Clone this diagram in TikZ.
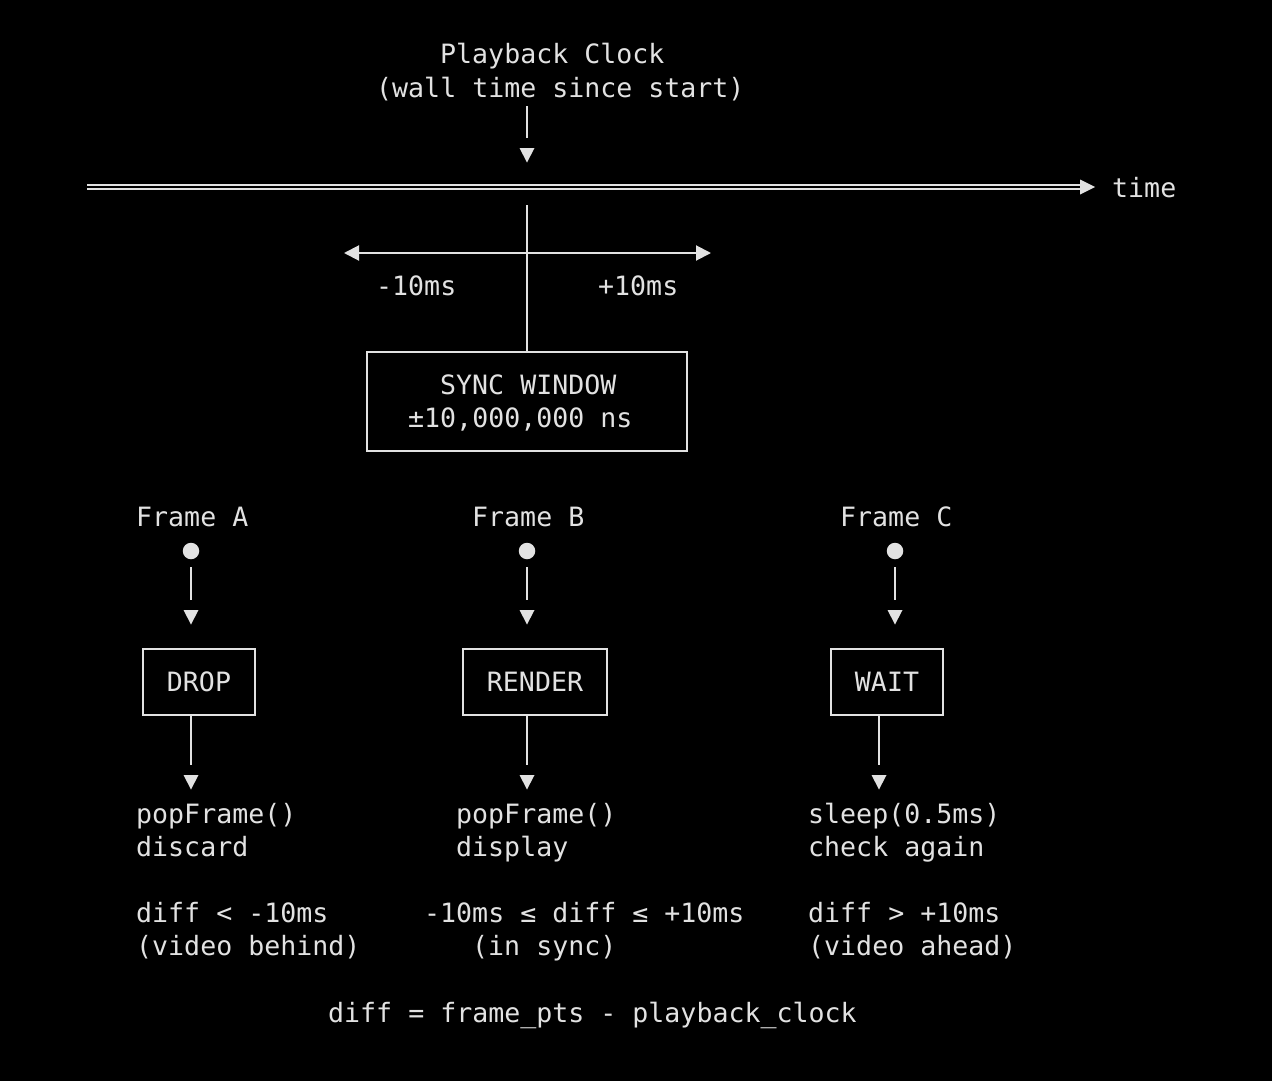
\documentclass[tikz,border=0pt]{standalone}
\usepackage{fontspec}
\setmonofont{DejaVu Sans Mono}
\usetikzlibrary{arrows.meta}
\definecolor{fg}{HTML}{E2E2E2}
\tikzset{
  txt/.style={text=fg, font=\fontsize{26.6}{33}\selectfont\ttfamily, inner sep=0pt, anchor=base west},
  ln/.style={draw=fg, line width=2pt},
  boxnode/.style={draw=fg, line width=2pt, text=fg, font=\fontsize{26.6}{33}\selectfont\ttfamily, inner sep=0pt},
  dotnode/.style={circle, fill=fg, inner sep=0pt, minimum size=16.5pt},
  dtri/.pic={\fill[fg] (-7.5,0) -- (7.5,0) -- (0,14.5) -- cycle;},
  tip/.style={-{Triangle[length=15pt,width=15pt]}},
  tips/.style={{Triangle[length=15pt,width=15pt]}-{Triangle[length=15pt,width=15pt]}}
}
\begin{document}
\begin{tikzpicture}[x=1pt,y=-1pt]
\fill[black] (0,0) rectangle (1272,1081);
\useasboundingbox (0,0) rectangle (1272,1081);

% clock
\node[txt] (clk1) at (440,64) {Playback Clock};
\node[txt] (clk2) at (376,97) {(wall time since start)};
\coordinate (c1) at (527,106);
\coordinate (c2) at (527,138);
\draw[ln] (c1) -- (c2);
\pic at (527,148) {dtri};

% timeline
\coordinate (t0a) at (87,185);
\coordinate (t1a) at (1081,185);
\coordinate (t0b) at (87,189);
\coordinate (t1b) at (1081,189);
\draw[ln, line width=1.8pt] (t0a) -- (t1a);
\draw[ln, line width=1.8pt] (t0b) -- (t1b);
\fill[fg] (1080,179.5) -- (1095,187) -- (1080,194.5) -- cycle;
\node[txt] (time) at (1112,197) {time};

% sync window
\node[boxnode, minimum width=320pt, minimum height=99pt] (sync) at (527,401.5) {};
\node[txt] (sync1) at (440,394) {SYNC WINDOW};
\node[txt] (sync2) at (408,427) {±10,000,000 ns};
\coordinate (v0) at (527,205);
\draw[ln] (v0) -- (sync.north);
\coordinate (hl) at (344,253);
\coordinate (hr) at (711,253);
\draw[ln, tips] (hl) -- (hr);
\node[txt] (m10) at (376,295) {-10ms};
\node[txt] (p10) at (598,295) {+10ms};

% frames
\node[txt] (fA) at (136,526) {Frame A};
\node[txt] (fB) at (472,526) {Frame B};
\node[txt] (fC) at (840,526) {Frame C};
\node[dotnode] (dA) at (191,551) {};
\node[dotnode] (dB) at (527,551) {};
\node[dotnode] (dC) at (895,551) {};
\coordinate (a1) at (191,567); \coordinate (a2) at (191,600);
\coordinate (b1) at (527,567); \coordinate (b2) at (527,600);
\coordinate (e1) at (895,567); \coordinate (e2) at (895,600);
\draw[ln] (a1) -- (a2);
\draw[ln] (b1) -- (b2);
\draw[ln] (e1) -- (e2);
\pic at (191,610) {dtri};
\pic at (527,610) {dtri};
\pic at (895,610) {dtri};

% action boxes
\node[boxnode, minimum width=112pt, minimum height=66pt] (drop) at (199,682) {DROP};
\node[boxnode, minimum width=144pt, minimum height=66pt] (render) at (535,682) {RENDER};
\node[boxnode, minimum width=112pt, minimum height=66pt] (wait) at (887,682) {WAIT};
\coordinate (a3) at (191,715); \coordinate (a4) at (191,765);
\coordinate (b3) at (527,715); \coordinate (b4) at (527,765);
\coordinate (e3) at (879,715); \coordinate (e4) at (879,765);
\draw[ln] (a3) -- (a4);
\draw[ln] (b3) -- (b4);
\draw[ln] (e3) -- (e4);
\pic at (191,775) {dtri};
\pic at (527,775) {dtri};
\pic at (879,775) {dtri};

% descriptions
\node[txt] (ra1) at (136,823) {popFrame()};
\node[txt] (ra2) at (136,856) {discard};
\node[txt] (ra3) at (136,922) {diff < -10ms};
\node[txt] (ra4) at (136,955) {(video behind)};
\node[txt] (rb1) at (456,823) {popFrame()};
\node[txt] (rb2) at (456,856) {display};
\node[txt] (rb3) at (424,922) {-10ms ≤ diff ≤ +10ms};
\node[txt] (rb4) at (472,955) {(in sync)};
\node[txt] (rc1) at (808,823) {sleep(0.5ms)};
\node[txt] (rc2) at (808,856) {check again};
\node[txt] (rc3) at (808,922) {diff > +10ms};
\node[txt] (rc4) at (808,955) {(video ahead)};

\node[txt] (formula) at (328,1022) {diff = frame\_pts - playback\_clock};
\end{tikzpicture}
\end{document}
